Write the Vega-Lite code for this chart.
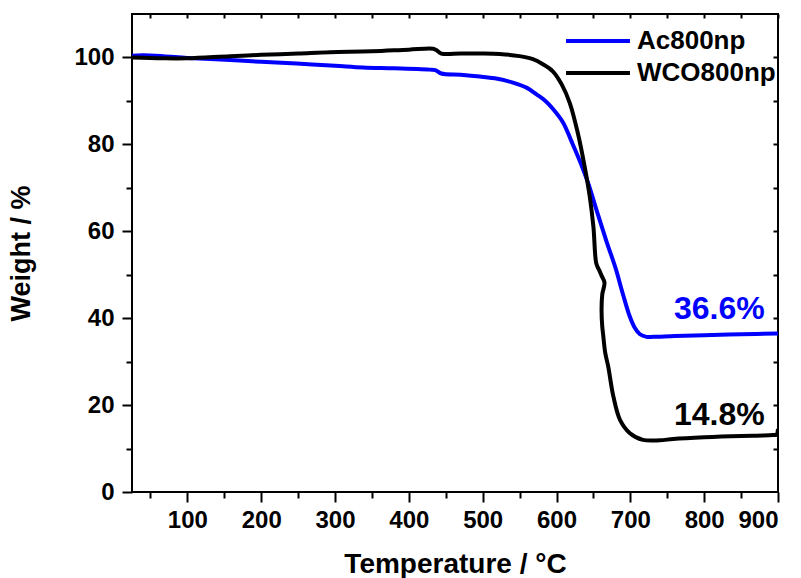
{
  "$schema": "https://vega.github.io/schema/vega-lite/v6.json",
  "width": 646,
  "height": 478,
  "autosize": {"type": "none"},
  "padding": {"left": 132, "top": 14, "right": 23, "bottom": 86},
  "background": "white",
  "config": {
    "font": "Liberation Sans",
    "view": {"stroke": "black", "strokeWidth": 2},
    "axis": {"domain": false, "grid": false, "tickColor": "black", "tickWidth": 2, "labelFont": "Liberation Sans", "labelFontWeight": "bold", "labelColor": "black", "titleFont": "Liberation Sans", "titleFontWeight": "bold", "titleColor": "black"}
  },
  "datasets": {
    "curves": [
      {"series": "Ac800np", "t": 25, "w": 100.4},
      {"series": "Ac800np", "t": 40, "w": 100.5},
      {"series": "Ac800np", "t": 67, "w": 100.3},
      {"series": "Ac800np", "t": 100, "w": 99.9},
      {"series": "Ac800np", "t": 158, "w": 99.4},
      {"series": "Ac800np", "t": 200, "w": 99.0},
      {"series": "Ac800np", "t": 248, "w": 98.6},
      {"series": "Ac800np", "t": 300, "w": 98.1},
      {"series": "Ac800np", "t": 338, "w": 97.7},
      {"series": "Ac800np", "t": 380, "w": 97.5},
      {"series": "Ac800np", "t": 428, "w": 97.2},
      {"series": "Ac800np", "t": 436, "w": 97.1},
      {"series": "Ac800np", "t": 444, "w": 96.3},
      {"series": "Ac800np", "t": 470, "w": 96.0},
      {"series": "Ac800np", "t": 496, "w": 95.6},
      {"series": "Ac800np", "t": 520, "w": 95.1},
      {"series": "Ac800np", "t": 541, "w": 94.2},
      {"series": "Ac800np", "t": 560, "w": 93.0},
      {"series": "Ac800np", "t": 573, "w": 91.5},
      {"series": "Ac800np", "t": 585, "w": 90.0},
      {"series": "Ac800np", "t": 595, "w": 88.2},
      {"series": "Ac800np", "t": 609, "w": 85.0},
      {"series": "Ac800np", "t": 620, "w": 80.8},
      {"series": "Ac800np", "t": 632, "w": 76.0},
      {"series": "Ac800np", "t": 643, "w": 71.0},
      {"series": "Ac800np", "t": 654, "w": 65.0},
      {"series": "Ac800np", "t": 668, "w": 57.5},
      {"series": "Ac800np", "t": 680, "w": 51.5},
      {"series": "Ac800np", "t": 690, "w": 45.5},
      {"series": "Ac800np", "t": 699, "w": 40.5},
      {"series": "Ac800np", "t": 706, "w": 37.8},
      {"series": "Ac800np", "t": 713, "w": 36.3},
      {"series": "Ac800np", "t": 722, "w": 35.7},
      {"series": "Ac800np", "t": 731, "w": 35.7},
      {"series": "Ac800np", "t": 760, "w": 35.9},
      {"series": "Ac800np", "t": 800, "w": 36.1},
      {"series": "Ac800np", "t": 850, "w": 36.3},
      {"series": "Ac800np", "t": 900, "w": 36.5},
      {"series": "WCO800np", "t": 25, "w": 100.0},
      {"series": "WCO800np", "t": 67, "w": 99.8},
      {"series": "WCO800np", "t": 100, "w": 99.8},
      {"series": "WCO800np", "t": 158, "w": 100.3},
      {"series": "WCO800np", "t": 200, "w": 100.6},
      {"series": "WCO800np", "t": 250, "w": 100.9},
      {"series": "WCO800np", "t": 293, "w": 101.2},
      {"series": "WCO800np", "t": 350, "w": 101.4},
      {"series": "WCO800np", "t": 400, "w": 101.8},
      {"series": "WCO800np", "t": 433, "w": 102.0},
      {"series": "WCO800np", "t": 437, "w": 101.7},
      {"series": "WCO800np", "t": 444, "w": 100.9},
      {"series": "WCO800np", "t": 470, "w": 100.9},
      {"series": "WCO800np", "t": 496, "w": 100.9},
      {"series": "WCO800np", "t": 523, "w": 100.8},
      {"series": "WCO800np", "t": 550, "w": 100.3},
      {"series": "WCO800np", "t": 568, "w": 99.6},
      {"series": "WCO800np", "t": 581, "w": 98.5},
      {"series": "WCO800np", "t": 595, "w": 96.8},
      {"series": "WCO800np", "t": 607, "w": 93.8},
      {"series": "WCO800np", "t": 618, "w": 89.5},
      {"series": "WCO800np", "t": 629, "w": 82.5},
      {"series": "WCO800np", "t": 638, "w": 75.0},
      {"series": "WCO800np", "t": 645, "w": 68.0},
      {"series": "WCO800np", "t": 650, "w": 61.0},
      {"series": "WCO800np", "t": 654, "w": 52.5},
      {"series": "WCO800np", "t": 658, "w": 51.0},
      {"series": "WCO800np", "t": 661, "w": 49.8},
      {"series": "WCO800np", "t": 665, "w": 48.2},
      {"series": "WCO800np", "t": 662, "w": 45.5},
      {"series": "WCO800np", "t": 661, "w": 42.0},
      {"series": "WCO800np", "t": 662, "w": 38.0},
      {"series": "WCO800np", "t": 663, "w": 36.5},
      {"series": "WCO800np", "t": 666, "w": 32.0},
      {"series": "WCO800np", "t": 670, "w": 28.9},
      {"series": "WCO800np", "t": 677, "w": 22.0},
      {"series": "WCO800np", "t": 686, "w": 16.6},
      {"series": "WCO800np", "t": 699, "w": 13.6},
      {"series": "WCO800np", "t": 717, "w": 12.0},
      {"series": "WCO800np", "t": 740, "w": 11.9},
      {"series": "WCO800np", "t": 758, "w": 12.2},
      {"series": "WCO800np", "t": 800, "w": 12.6},
      {"series": "WCO800np", "t": 850, "w": 12.9},
      {"series": "WCO800np", "t": 880, "w": 13.0},
      {"series": "WCO800np", "t": 893, "w": 13.1},
      {"series": "WCO800np", "t": 898, "w": 13.2},
      {"series": "WCO800np", "t": 900, "w": 14.5}
    ],
    "notes": [
      {"series": "Ac800np", "t": 882, "w": 42.2, "label": "36.6%"},
      {"series": "WCO800np", "t": 882, "w": 17.7, "label": "14.8%"}
    ]
  },
  "resolve": {"axis": {"x": "independent", "y": "independent"}},
  "layer": [
    {
      "data": {"name": "curves"},
      "mark": {"type": "line", "strokeWidth": 4, "clip": true, "interpolate": "catmull-rom", "strokeJoin": "round"},
      "encoding": {
        "x": {"field": "t", "type": "quantitative", "scale": {"domain": [25, 900], "nice": false, "zero": false},
              "axis": {"orient": "bottom", "values": [100, 200, 300, 400, 500, 600, 700, 800, 900], "tickSize": 10, "labelFontSize": 24, "labelPadding": 6, "title": "Temperature / °C", "titleFontSize": 28, "titlePadding": 18}},
        "y": {"field": "w", "type": "quantitative", "scale": {"domain": [0, 110], "nice": false},
              "axis": {"orient": "left", "values": [0, 20, 40, 60, 80, 100], "tickSize": 10, "labelFontSize": 24, "labelPadding": 8, "title": "Weight / %", "titleFontSize": 27, "titlePadding": 38}},
        "color": {"field": "series", "type": "nominal",
                  "scale": {"domain": ["Ac800np", "WCO800np"], "range": ["#0000ff", "#000000"]},
                  "legend": {"orient": "none", "legendX": 447, "legendY": 8, "title": null, "symbolType": "M-1.88,0L1.88,0", "symbolSize": 1156, "symbolStrokeWidth": 4, "symbolFillColor": "transparent", "labelFontSize": 26, "labelFont": "Liberation Sans", "labelFontWeight": "bold", "labelColor": "black", "labelOffset": 20, "rowPadding": 0}},
        "order": {"value": null}
      }
    },
    {
      "data": {"name": "notes"},
      "mark": {"type": "text", "align": "right", "baseline": "middle", "fontSize": 32, "fontWeight": "bold", "font": "Liberation Sans"},
      "encoding": {
        "x": {"field": "t", "type": "quantitative", "axis": {"orient": "bottom", "values": [50, 150, 250, 350, 450, 550, 650, 750, 850], "tickSize": 6, "labels": false, "title": null}},
        "y": {"field": "w", "type": "quantitative", "axis": {"orient": "left", "values": [10, 30, 50, 70, 90], "tickSize": 6, "labels": false, "title": null}},
        "text": {"field": "label"},
        "color": {"condition": {"test": "datum.series === 'Ac800np'", "value": "#0000ff"}, "value": "#000000"}
      }
    },
    {
      "data": {"name": "notes"},
      "mark": {"type": "point", "opacity": 0},
      "encoding": {
        "x": {"field": "t", "type": "quantitative", "axis": {"orient": "top", "values": [50, 100, 150, 200, 250, 300, 350, 400, 450, 500, 550, 600, 650, 700, 750, 800, 850, 900], "tickSize": -4, "labels": false, "title": null}},
        "y": {"field": "w", "type": "quantitative", "axis": {"orient": "right", "values": [10, 20, 30, 40, 50, 60, 70, 80, 90, 100], "tickSize": -5, "labels": false, "title": null}}
      }
    }
  ]
}
